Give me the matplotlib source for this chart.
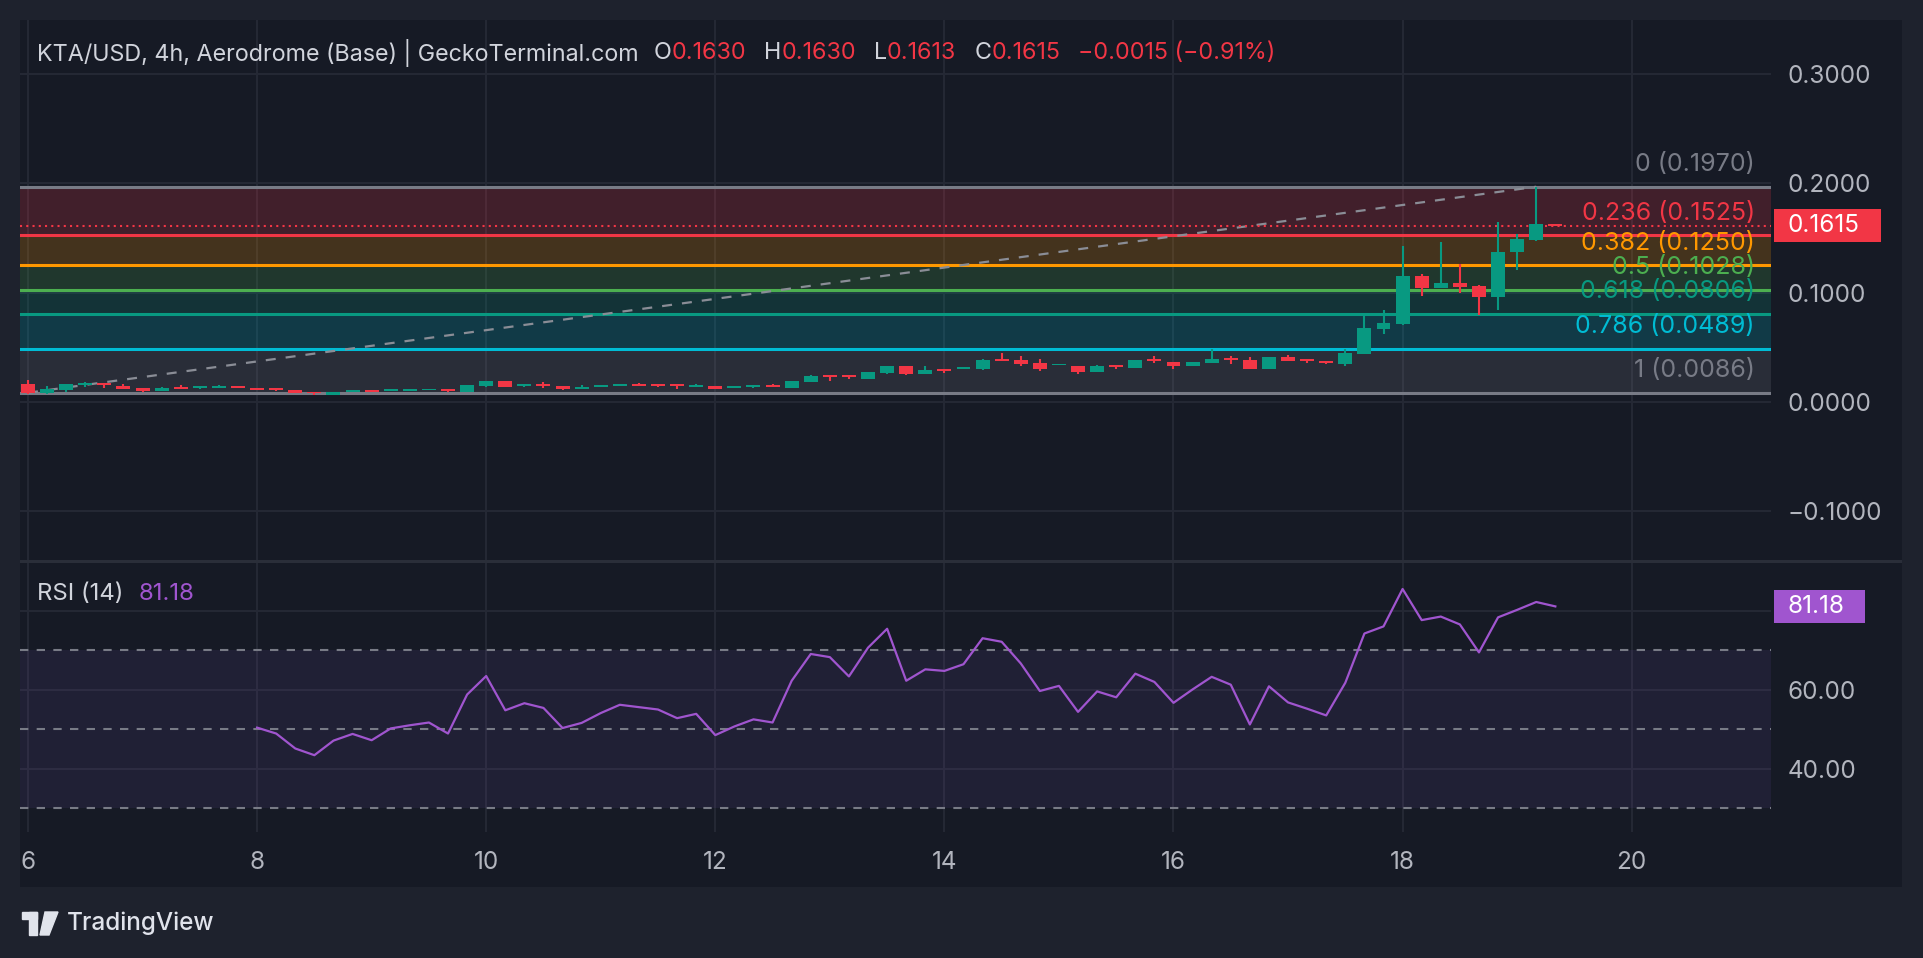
import matplotlib
matplotlib.use('Agg')
import matplotlib.pyplot as plt
from matplotlib.patches import Rectangle, Polygon
import numpy as np

W, H = 1924, 958

# 4h candles, first one on the 6th at 00:00
start_day = 6
opens = [0.0166, 0.0080, 0.0111, 0.0156, 0.0174, 0.0147, 0.0129, 0.0102, 0.0138, 0.0129,
         0.0129, 0.0147, 0.0129, 0.0129, 0.0111, 0.0093, 0.0065, 0.0093, 0.0111, 0.0102,
         0.0102, 0.0111, 0.0120, 0.0093, 0.0147, 0.0193, 0.0147, 0.0165, 0.0147, 0.0120,
         0.0138, 0.0147, 0.0165, 0.0165, 0.0165, 0.0138, 0.0147, 0.0129, 0.0138, 0.0156,
         0.0129, 0.0184, 0.0248, 0.0248, 0.0211, 0.0266, 0.0330, 0.0257, 0.0302, 0.0302,
         0.0302, 0.0394, 0.0385, 0.0358, 0.0340, 0.0330, 0.0275, 0.0339, 0.0312, 0.0394,
         0.0367, 0.0330, 0.0358, 0.0403, 0.0385, 0.0302, 0.0412, 0.0394, 0.0376, 0.0348,
         0.0440, 0.0669, 0.0714, 0.1153, 0.1044, 0.1089, 0.1062, 0.0961, 0.1373, 0.1482,
         0.1630]
highs = [0.0202, 0.0147, 0.0166, 0.0183, 0.0177, 0.0165, 0.0129, 0.0138, 0.0156, 0.0147,
         0.0156, 0.0147, 0.0129, 0.0129, 0.0111, 0.0093, 0.0093, 0.0111, 0.0111, 0.0120,
         0.0120, 0.0120, 0.0120, 0.0156, 0.0193, 0.0193, 0.0165, 0.0183, 0.0147, 0.0156,
         0.0156, 0.0165, 0.0174, 0.0165, 0.0165, 0.0165, 0.0147, 0.0147, 0.0156, 0.0165,
         0.0193, 0.0248, 0.0248, 0.0248, 0.0275, 0.0330, 0.0330, 0.0330, 0.0302, 0.0321,
         0.0394, 0.0449, 0.0421, 0.0394, 0.0348, 0.0330, 0.0339, 0.0339, 0.0385, 0.0421,
         0.0367, 0.0367, 0.0486, 0.0421, 0.0412, 0.0412, 0.0431, 0.0394, 0.0376, 0.0486,
         0.0806, 0.0842, 0.1428, 0.1171, 0.1464, 0.1263, 0.1071, 0.1647, 0.1537, 0.1970,
         0.1630]
lows = [0.0078, 0.0078, 0.0093, 0.0138, 0.0129, 0.0120, 0.0093, 0.0102, 0.0120, 0.0120,
        0.0129, 0.0129, 0.0111, 0.0102, 0.0080, 0.0068, 0.0065, 0.0093, 0.0093, 0.0102,
        0.0102, 0.0111, 0.0093, 0.0093, 0.0138, 0.0138, 0.0138, 0.0129, 0.0111, 0.0120,
        0.0138, 0.0147, 0.0147, 0.0138, 0.0120, 0.0138, 0.0120, 0.0129, 0.0129, 0.0138,
        0.0129, 0.0184, 0.0193, 0.0211, 0.0211, 0.0257, 0.0248, 0.0257, 0.0266, 0.0302,
        0.0293, 0.0376, 0.0330, 0.0284, 0.0340, 0.0257, 0.0275, 0.0302, 0.0312, 0.0358,
        0.0302, 0.0330, 0.0358, 0.0348, 0.0302, 0.0302, 0.0376, 0.0358, 0.0348, 0.0330,
        0.0440, 0.0623, 0.0705, 0.0970, 0.1044, 0.0999, 0.0797, 0.0842, 0.1208, 0.1473,
        0.1613]
closes = [0.0080, 0.0117, 0.0166, 0.0174, 0.0156, 0.0120, 0.0102, 0.0129, 0.0120, 0.0147,
          0.0147, 0.0129, 0.0111, 0.0111, 0.0080, 0.0080, 0.0093, 0.0111, 0.0093, 0.0120,
          0.0120, 0.0120, 0.0102, 0.0156, 0.0193, 0.0138, 0.0165, 0.0147, 0.0120, 0.0138,
          0.0156, 0.0165, 0.0147, 0.0147, 0.0147, 0.0156, 0.0120, 0.0147, 0.0156, 0.0138,
          0.0193, 0.0239, 0.0230, 0.0230, 0.0275, 0.0330, 0.0257, 0.0293, 0.0284, 0.0321,
          0.0385, 0.0376, 0.0348, 0.0302, 0.0348, 0.0275, 0.0330, 0.0321, 0.0385, 0.0376,
          0.0330, 0.0367, 0.0394, 0.0385, 0.0302, 0.0412, 0.0376, 0.0376, 0.0358, 0.0449,
          0.0678, 0.0722, 0.1153, 0.1044, 0.1089, 0.1053, 0.0961, 0.1373, 0.1492, 0.1629,
          0.1615]

# RSI(14), first value on candle 12 (the 8th, 00:00)
rsi_offset = 12
rsi = [50.4, 48.9, 45.1, 43.4, 47.1, 48.8, 47.2, 50.2, 51.0, 51.7,
       48.9, 58.8, 63.5, 54.8, 56.6, 55.4, 50.3, 51.6, 54.1, 56.2,
       55.6, 55.0, 52.8, 53.9, 48.5, 50.7, 52.5, 51.7, 62.3, 69.1,
       68.3, 63.4, 70.7, 75.5, 62.3, 65.2, 64.8, 66.5, 73.1, 72.2,
       66.7, 59.7, 61.0, 54.4, 59.6, 58.1, 64.1, 62.0, 56.7, 60.1,
       63.3, 61.3, 51.2, 60.9, 56.8, 55.2, 53.5, 61.8, 74.3, 76.1,
       85.6, 77.7, 78.6, 76.6, 69.5, 78.4, 80.3, 82.3, 81.18]

# fib retracement from the low of the first candle to the top wick
fib_ratios = [0, 0.236, 0.382, 0.5, 0.618, 0.786, 1]
fib_prices = [0.1970, 0.1525, 0.1250, 0.1028, 0.0806, 0.0489, 0.0086]
fib_colors = ['#787b86', '#f23645', '#ff9800', '#4caf50', '#089981', '#00bcd4', '#787b86']
trend_start = (6.0, 0.0086)
trend_end = (6 + 79 / 6, 0.1970)

price_ticks = [-0.1, 0.0, 0.1, 0.2, 0.3]
rsi_ticks = [40, 60, 80]
rsi_tick_labels = ['40.00', '60.00', '']
rsi_bands = [70, 50, 30]
day_ticks = [6, 8, 10, 12, 14, 16, 18, 20]

last_price = 0.1615
title = 'KTA/USD, 4h, Aerodrome (Base) | GeckoTerminal.com'
ohlc_text = [('O', '0.1630'), ('H', '0.1630'), ('L', '0.1613'), ('C', '0.1615')]
change_text = '\u22120.0015 (\u22120.91%)'

UP = '#089981'
DOWN = '#f23645'
BG = '#161a25'
OUTER = '#1e222d'
GRID = '#252935'
TXT = '#b2b5be'
RSI_COL = '#a055cf'
FS = 17.5
plt.rcParams['font.family'] = ['Inter', 'DejaVu Sans']


def box(x0, y0, x1, y1):
    return [x0 / W, 1 - y1 / H, (x1 - x0) / W, (y1 - y0) / H]


def clean(a):
    for s in a.spines.values():
        s.set_visible(False)
    a.set_facecolor('none')


fig = plt.figure(figsize=(W / 100, H / 100), dpi=100, facecolor=OUTER)
fig.add_artist(Rectangle((20 / W, 1 - 887 / H), 1882 / W, 867 / H, transform=fig.transFigure,
                         facecolor=BG, edgecolor='none', zorder=-5))

# main pane
ax = fig.add_axes(box(20, 20, 1771, 561))
clean(ax)
x0_day = 6 - 8 / 114.55
ax.set_xlim(x0_day, 6 + 1743 / 114.55)
ax.set_ylim(-0.1453, 0.3495)
ax.set_xticks(day_ticks)
ax.set_yticks(price_ticks)
ax.yaxis.tick_right()
ax.yaxis.set_major_formatter(plt.FuncFormatter(lambda v, p: f'{v:.4f}'.replace('-', '\u2212')))
ax.tick_params(axis='y', length=0, pad=12, labelsize=FS, labelcolor=TXT)
ax.tick_params(axis='x', length=0, labelbottom=False)
ax.grid(color=GRID, lw=1.4, zorder=0)
ax.set_axisbelow(True)

for i in range(len(fib_prices) - 1):
    ax.axhspan(fib_prices[i + 1], fib_prices[i], color=fib_colors[i + 1], alpha=0.2, lw=0, zorder=1)
for r, p, c in zip(fib_ratios, fib_prices, fib_colors):
    ax.axhline(p, color=c, lw=2.2, zorder=2)
    ax.annotate(f'{r:g} ({p:.4f})', xy=((1755 - 20) / 1751, p), xycoords=ax.get_yaxis_transform(),
                xytext=(0, 16), textcoords='offset points', ha='right', va='center',
                color=c, fontsize=18, zorder=6)

ax.plot([trend_start[0], trend_end[0]], [trend_start[1], trend_end[1]], color='#8a8d96',
        lw=1.6, dashes=(4.5, 4.5), zorder=3)
ax.axhline(last_price, color=DOWN, lw=1.5, dashes=(1, 2), zorder=3)

t = start_day + np.arange(len(opens)) / 6
o = np.array(opens)
c = np.array(closes)
cols = [UP if cc >= oo else DOWN for oo, cc in zip(o, c)]
ax.vlines(t, lows, highs, colors=cols, lw=1.5, zorder=4)
body = np.maximum(np.abs(c - o), 0.0013)
ax.bar(t, body, bottom=np.minimum(o, c), width=0.122, color=cols, lw=0, zorder=5)

ytr = ax.get_yaxis_transform()
ax.add_patch(Rectangle((1.0017, last_price - 0.0147), 0.061, 0.0294, transform=ytr,
                       facecolor=DOWN, edgecolor='none', clip_on=False, zorder=7))
ax.text((1788 - 20) / 1751, last_price, f'{last_price:.4f}', transform=ytr, color='white',
        fontsize=FS, va='center', ha='left', zorder=8, clip_on=False)

# RSI pane
rx = fig.add_axes(box(20, 563, 1771, 832))
clean(rx)
rx.set_xlim(ax.get_xlim())
rx.set_ylim(23.9, 92.2)
rx.set_xticks(day_ticks)
rx.set_xticklabels([str(d) for d in day_ticks])
rx.set_yticks(rsi_ticks)
rx.set_yticklabels(rsi_tick_labels)
rx.yaxis.tick_right()
rx.tick_params(axis='y', length=0, pad=12, labelsize=FS, labelcolor=TXT)
rx.tick_params(axis='x', length=0, pad=14, labelsize=FS, labelcolor=TXT)
rx.grid(color=GRID, lw=1.4, zorder=0)
rx.set_axisbelow(True)
rx.axhspan(rsi_bands[-1], rsi_bands[0], color='#7e57c2', alpha=0.1, lw=0, zorder=1)
for b in rsi_bands:
    rx.axhline(b, color='#787b86', lw=1.5, dashes=(4, 4), zorder=2)
rt = t[rsi_offset:rsi_offset + len(rsi)]
rx.plot(rt, rsi, color=RSI_COL, lw=1.6, zorder=4)
rtr = rx.get_yaxis_transform()
rx.add_patch(Rectangle((1.0017, rsi[-1] - 4.2), 0.052, 8.4, transform=rtr,
                       facecolor=RSI_COL, edgecolor='none', clip_on=False, zorder=7))
rx.text((1788 - 20) / 1751, rsi[-1], f'{rsi[-1]:.2f}', transform=rtr, color='white',
        fontsize=FS, va='center', ha='left', zorder=8, clip_on=False)

# pane separator
fig.add_artist(Rectangle((20 / W, 1 - 563 / H), 1882 / W, 3 / H, transform=fig.transFigure,
                         facecolor='#2a2e39', edgecolor='none'))

# legend lines
rend = fig.canvas.get_renderer()


def put(x, y, s, color, fs=16.8):
    tx = fig.text(x / W, 1 - y / H, s, color=color, fontsize=fs, va='center', ha='left')
    bb = tx.get_window_extent(rend)
    return x + bb.width


x = put(37, 53, title, '#d1d4dc')
x += 15
for k, v in ohlc_text:
    x = put(x, 53, k, '#d1d4dc')
    x = put(x, 53, v, DOWN)
    x += 18
put(x, 53, change_text, DOWN)

x = put(37, 594, 'RSI (14)', '#d1d4dc', 17.2)
put(x + 15, 594, f'{rsi[-1]:.2f}', RSI_COL, 17.2)

# TradingView logo
logo = '#e0e3eb'
fig.add_artist(Rectangle((22 / W, 1 - 919 / H), 15 / W, 7 / H, transform=fig.transFigure, color=logo))
fig.add_artist(Rectangle((29 / W, 1 - 935 / H), 8 / W, 23 / H, transform=fig.transFigure, color=logo))
fig.add_artist(Polygon([(45 / W, 1 - 912 / H), (58 / W, 1 - 912 / H), (49 / W, 1 - 935 / H),
                        (40 / W, 1 - 935 / H)], closed=True, transform=fig.transFigure, color=logo))
fig.text(67 / W, 1 - 923 / H, 'TradingView', color=logo, fontsize=17.5, fontweight='medium',
         va='center', ha='left')

fig.savefig('out.png', dpi=100, facecolor=OUTER)
